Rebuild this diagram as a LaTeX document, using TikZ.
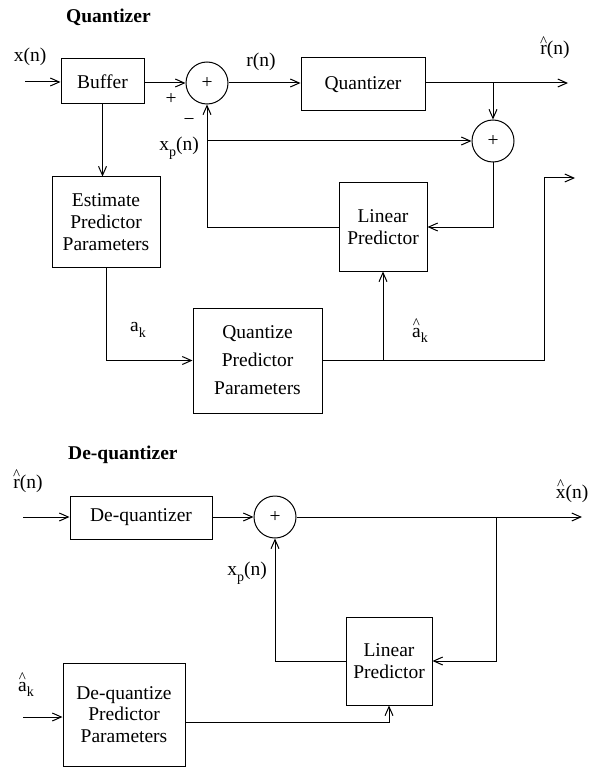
\documentclass[tikz,border=0pt]{standalone}
\usepackage{fontspec}
\setmainfont{Liberation Serif}
\usetikzlibrary{arrows.meta}
% lowered subscript in text font
\newcommand{\lowsub}[1]{\raisebox{-0.3em}{\fontsize{14}{14}\selectfont #1}}
% letter with a tall caret set well above it
\newcommand{\tallhat}[1]{\leavevmode\setbox0\hbox{#1}\rlap{\hbox to\wd0{\hss\raisebox{0.42em}{\fontsize{15}{15}\selectfont\textasciicircum}\hss}}\box0}
\begin{document}
\begin{tikzpicture}[x=1pt,y=-1pt,
  every node/.style={font=\fontsize{19.5}{21.7}\selectfont},
  blk/.style={draw,line width=1pt,inner sep=0pt,align=center},
  sumnode/.style={draw,circle,line width=1pt,minimum size=42pt,inner sep=0pt},
  wire/.style={line width=1pt},
  arr/.style={wire,-{Straight Barb[length=9pt,width=8pt]}},
  lbl/.style={inner sep=0pt},
  title/.style={font=\fontsize{19.5}{22}\selectfont\bfseries,anchor=west,inner sep=0pt}]
\useasboundingbox (0,0) rectangle (588,767);

% ---------------- quantizer ----------------
\node[title] (t1) at (66,17) {Quantizer};
\node[lbl] (xn) at (30,57) {x(n)};
\coordinate (xin) at (25,82);
\node[blk,minimum width=83pt,minimum height=45pt] (buf) at (102.5,81.5) {Buffer};
\node[sumnode] (s1) at (207,83) {+};
\node[lbl] (plus) at (171,99) {+};
\node[lbl] (minus) at (189,122) {−};
\node[lbl] (rn) at (261,62) {r(n)};
\node[blk,minimum width=124pt,minimum height=53pt] (qz) at (363,84.5) {Quantizer};
\coordinate (j1) at (493,83);
\coordinate (rout) at (568,83);
\node[lbl,anchor=base] (rhat) at (555,55) {\tallhat{r}(n)};
\node[sumnode] (s2) at (493,141) {+};
\coordinate (xpj) at (207,141);
\node[lbl] (xp1) at (179,148) {x\lowsub{p}(n)};
\node[blk,minimum width=88pt,minimum height=88pt] (lp1) at (383,227) {Linear\\Predictor};
\node[blk,minimum width=108pt,minimum height=90pt] (est) at (106,222) {Estimate\\Predictor\\Parameters};
\node[lbl] (ak) at (138,330) {a\lowsub{k}};
\node[blk,minimum width=129pt,minimum height=105pt,font=\fontsize{19.5}{28}\selectfont] (qpp) at (257.5,360.5) {Quantize\\Predictor\\Parameters};
\node[lbl,anchor=base] (akhat) at (420,337) {\tallhat{a}\lowsub{k}};
\coordinate (acorner) at (544,178);
\coordinate (aout) at (575,178);

\draw[arr] (xin) -- (xin -| buf.west);
\draw[arr] (s1.west -| buf.east) -- (s1.west);
\draw[arr] (s1.east) -- (s1.east -| qz.west);
\draw[arr] (qz.east |- j1) -- (rout);
\draw[arr] (j1) -- (s2.north);
\draw[arr] (xpj) -- (s2.west);
\draw[arr] (s2.south) |- (lp1.east);
\draw[arr] (lp1.west) -| (s1.south);
\draw[arr] (buf.south) -- (buf.south |- est.north);
\draw[arr] (est.south) |- (qpp.west);
\draw[arr] (qpp.east) -| (acorner) -- (aout);
\draw[arr] (qpp.east -| lp1.south) -- (lp1.south);

% ---------------- de-quantizer ----------------
\node[title] (t2) at (68,455) {De-quantizer};
\node[lbl,anchor=base] (rhat2) at (28,488) {\tallhat{r}(n)};
\coordinate (rin) at (23,517);
\node[blk,minimum width=142pt,minimum height=43pt] (dq) at (141,517.5) {De-quantizer};
\node[sumnode] (s3) at (275,517) {+};
\coordinate (j2) at (496,517);
\coordinate (xout) at (582,517);
\node[lbl,anchor=base] (xhat) at (572,498) {\tallhat{x}(n)};
\node[blk,minimum width=86pt,minimum height=88pt] (lp2) at (389,661) {Linear\\Predictor};
\node[lbl] (xp2) at (247,573) {x\lowsub{p}(n)};
\node[blk,minimum width=122pt,minimum height=103pt] (dqp) at (124,714.5) {De-quantize\\Predictor\\Parameters};
\node[lbl,anchor=base] (akhat2) at (26,691) {\tallhat{a}\lowsub{k}};
\coordinate (ain) at (23,717);

\draw[arr] (rin) -- (rin -| dq.west);
\draw[arr] (dq.east |- s3) -- (s3.west);
\draw[arr] (s3.east) -- (xout);
\draw[arr] (j2) |- (lp2.east);
\draw[arr] (lp2.west) -| (s3.south);
\draw[arr] (ain) -- (ain -| dqp.west);
\draw[arr] ([yshift=-7.5pt]dqp.east) -| (lp2.south);
\end{tikzpicture}
\end{document}
